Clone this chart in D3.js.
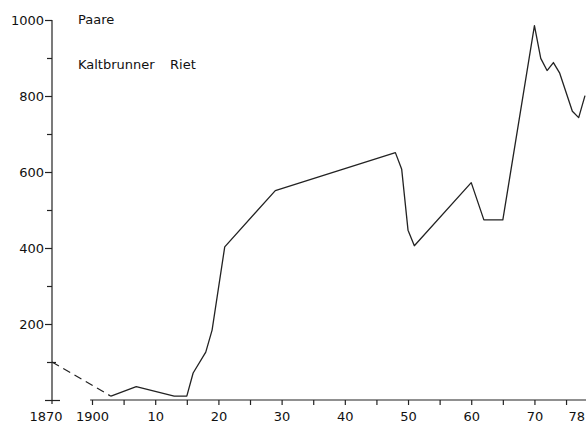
<!DOCTYPE html>
<html>
<head>
<meta charset="utf-8">
<script src="https://cdn.jsdelivr.net/npm/d3@7"></script>
<style>
  body { margin: 0; background: #fff; }
  text { font-family: "DejaVu Sans", sans-serif; font-size: 13px; fill: #111; }
</style>
</head>
<body>
<div id="chart"></div>
<script>
// pairs counted (Paare), Kaltbrunner Riet
const dashedYears = [1870, 1903]
const dashedPairs = [100, 10]

const years = [1903, 1907, 1913, 1915, 1916, 1918, 1919, 1921, 1929, 1948, 1949, 1950, 1951,
               1960, 1962, 1965, 1970, 1971, 1972, 1973, 1974, 1976, 1977, 1978]
const pairs = [10, 35, 10, 10, 71, 126, 184, 403, 551, 651, 607, 447, 406,
               572, 474, 474, 985, 899, 867, 888, 860, 760, 743, 801]

const yTicks = [0, 100, 200, 300, 400, 500, 600, 700, 800, 900, 1000]
const xTicks = [1900, 1905, 1910, 1915, 1920, 1925, 1930, 1935, 1940, 1945, 1950, 1955, 1960, 1965, 1970, 1975]
const xLabels = { 1900: '1900', 1910: '10', 1920: '20', 1930: '30', 1940: '40', 1950: '50', 1960: '60', 1970: '70' }

const width = 586
const height = 423

// broken axis: 1870..1900 is squeezed
const x = d3.scaleLinear()
    .domain([1870, 1900, 1978])
    .range([52, 92, 585])
const y = d3.scaleLinear()
    .domain([0, 1000])
    .range([400, 20])

const svg = d3.select('#chart')
    .append('svg')
    .attr('width', width)
    .attr('height', height)

// y axis
const yAxis = svg.append('g')
    .attr('transform', `translate(${x(1870)},0)`)
    .call(d3.axisLeft(y)
        .tickValues(yTicks)
        .tickFormat(d => (d > 0 && d % 200 === 0) ? d : '')
        .tickSizeOuter(0))
yAxis.attr('font-family', null).attr('font-size', null)
yAxis.select('.domain')
    .attr('d', `M0,${y(1000)}V${y(0) + 4}`)
    .attr('stroke', '#222').attr('stroke-width', 1.2)
yAxis.selectAll('.tick line')
    .attr('stroke', '#222').attr('stroke-width', 1.2)
    .attr('x1', d => d <= 100 ? 4 : 0)
    .attr('x2', d => d % 200 === 0 ? -7 : -5)
yAxis.selectAll('.tick line').filter(d => d === 0).attr('x1', 8)
yAxis.selectAll('.tick text').attr('x', -8).attr('dy', '0.36em')

// x axis
const xAxis = svg.append('g')
    .attr('transform', `translate(0,${y(0)})`)
    .call(d3.axisBottom(x)
        .tickValues(xTicks)
        .tickFormat(d => xLabels[d] || '')
        .tickSize(5)
        .tickSizeOuter(0))
xAxis.attr('font-family', null).attr('font-size', null)
xAxis.select('.domain')
    .attr('d', `M${x(1898.6)},0H${width}`)
    .attr('stroke', '#222').attr('stroke-width', 1.2)
xAxis.selectAll('.tick line').attr('stroke', '#222').attr('stroke-width', 1.2)
xAxis.selectAll('.tick text').attr('y', 12).attr('dy', '0.71em')

xAxis.append('text')
    .attr('x', x(1870) - 6).attr('y', 12).attr('dy', '0.71em')
    .attr('text-anchor', 'middle')
    .text('1870')
xAxis.append('text')
    .attr('x', width - 1).attr('y', 12).attr('dy', '0.71em')
    .attr('text-anchor', 'end')
    .text('78')

// lines
const line = d3.line()
    .x(d => x(d[0]))
    .y(d => y(d[1]))

svg.append('path')
    .datum(dashedYears.map((yr, i) => [yr, dashedPairs[i]]))
    .attr('d', line)
    .attr('fill', 'none')
    .attr('stroke', '#222')
    .attr('stroke-width', 1.2)
    .attr('stroke-dasharray', '8,5')

svg.append('path')
    .datum(years.map((yr, i) => [yr, pairs[i]]))
    .attr('d', line)
    .attr('fill', 'none')
    .attr('stroke', '#222')
    .attr('stroke-width', 1.3)
    .attr('stroke-linejoin', 'round')

// titles
svg.append('text').attr('x', 78).attr('y', 24).text('Paare')
svg.append('text').attr('x', 78).attr('y', 69).text('Kaltbrunner')
svg.append('text').attr('x', 170).attr('y', 69).text('Riet')
</script>
</body>
</html>
